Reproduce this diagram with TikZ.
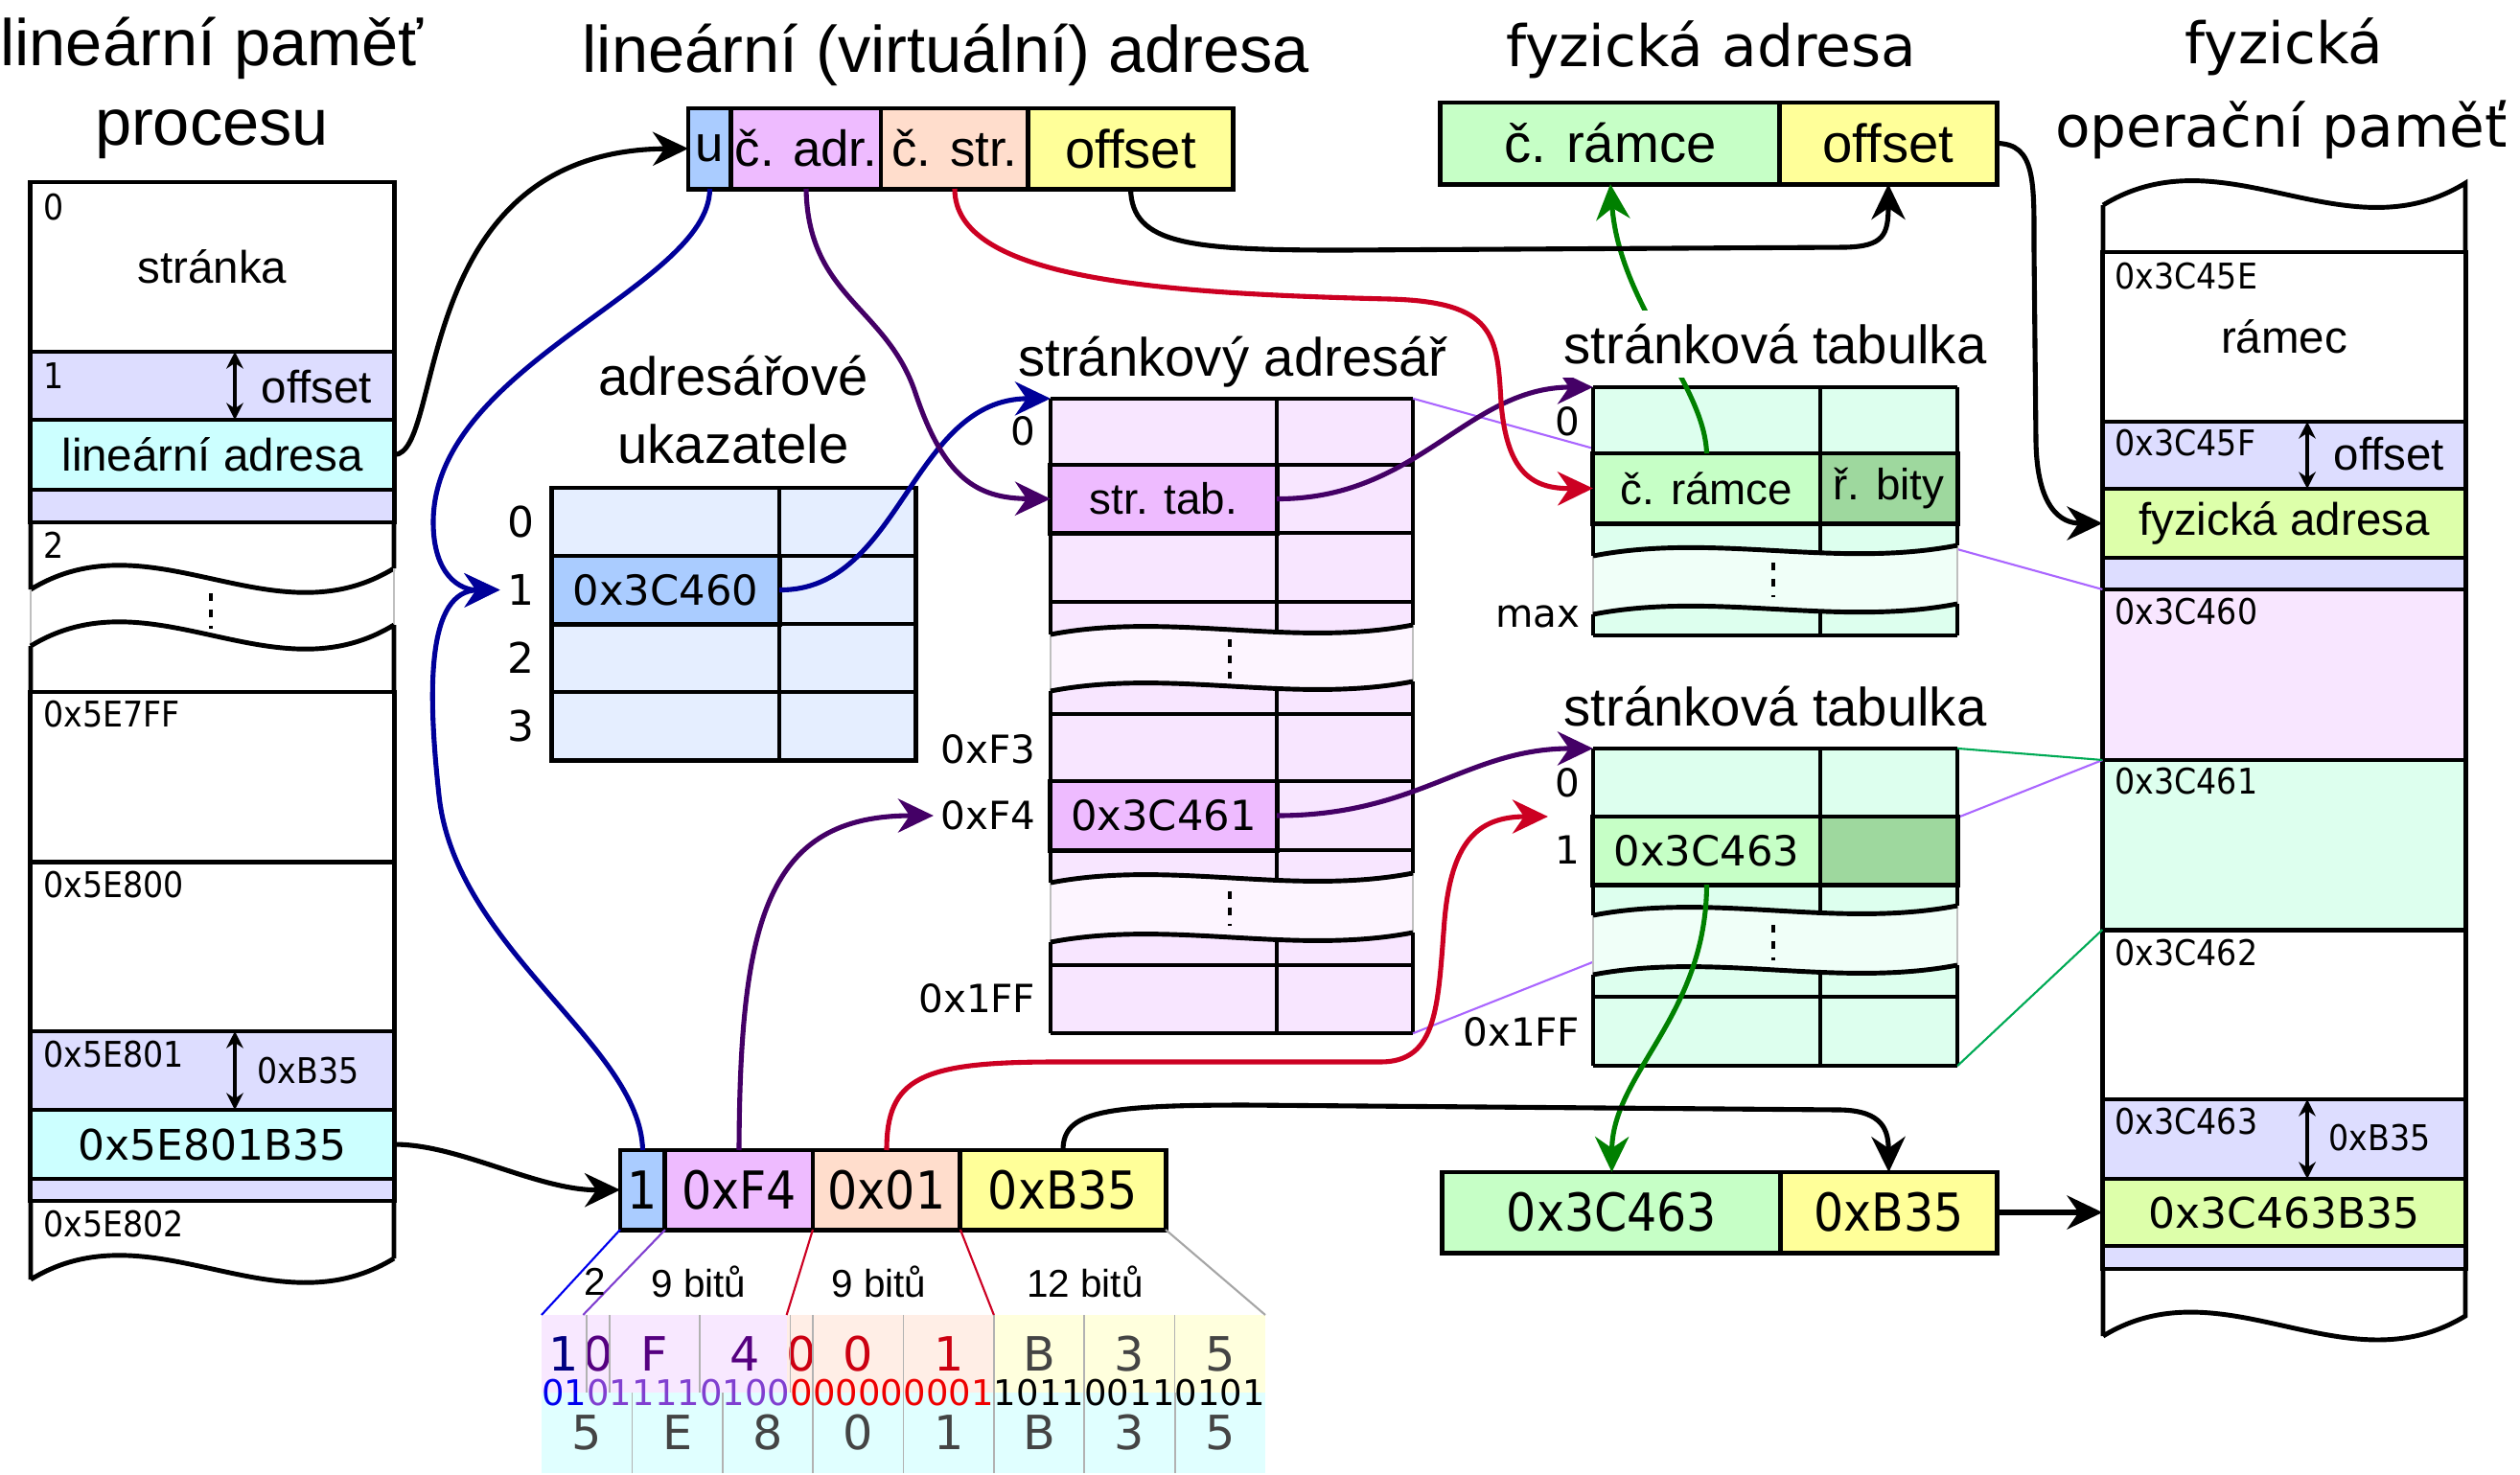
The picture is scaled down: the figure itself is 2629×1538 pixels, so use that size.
\documentclass[tikz,border=0pt]{standalone}
\usepackage{fontspec}
\setmainfont{Liberation Sans}
\newfontfamily\djv{DejaVu Sans}
\newfontfamily\djvc{DejaVu Sans}[FakeStretch=0.9]
\usetikzlibrary{arrows.meta}

\definecolor{memlav}{HTML}{DDDDFF}
\definecolor{memcyan}{HTML}{CCFFFF}
\definecolor{ublue}{HTML}{AACCFF}
\definecolor{adrpink}{HTML}{EEBBFF}
\definecolor{strpeach}{HTML}{FFDDCC}
\definecolor{offyel}{HTML}{FFFF99}
\definecolor{ptrlight}{HTML}{E5EEFF}
\definecolor{dirlight}{HTML}{F8E6FF}
\definecolor{dirgap}{HTML}{FDF5FF}
\definecolor{tablight}{HTML}{DDFFEE}
\definecolor{tabgap}{HTML}{F0FFF8}
\definecolor{framegreen}{HTML}{C6FFC6}
\definecolor{bitsgreen}{HTML}{9ED89E}
\definecolor{physyel}{HTML}{DDFFAA}
\definecolor{arrblue}{HTML}{000099}
\definecolor{arrpurple}{HTML}{440066}
\definecolor{arrred}{HTML}{CC0022}
\definecolor{arrgreen}{HTML}{008000}
\definecolor{mappurple}{HTML}{AA66FF}
\definecolor{mapgreen}{HTML}{00AA55}
\definecolor{bitpink}{HTML}{F8E8FF}
\definecolor{bitpeach}{HTML}{FFEEE6}
\definecolor{bityel}{HTML}{FFFFDD}
\definecolor{bitcyan}{HTML}{E0FFFF}
\definecolor{binblue}{HTML}{0000EE}
\definecolor{binpurple}{HTML}{8040D0}
\definecolor{binred}{HTML}{EE0000}
\definecolor{hexnavy}{HTML}{000080}
\definecolor{hexpurple}{HTML}{550080}
\definecolor{hexred}{HTML}{CC0011}
\definecolor{hexgray}{HTML}{444444}

% wavy break line, forward and backward
\newcommand{\wvf}[5]{(#1,#2) .. controls ({#1+#3/3},{#2-#4/3-#5}) and ({#1+2*#3/3},{#2-2*#4/3+#5}) .. ({#1+#3},{#2-#4})}
\newcommand{\wvb}[5]{.. controls ({#1+2*#3/3},{#2-2*#4/3+#5}) and ({#1+#3/3},{#2-#4/3-#5}) .. (#1,#2)}

\tikzset{
    memrow/.style={draw, line width=1.4pt, inner sep=0, outer sep=0, minimum width=37.9mm, font=\fontsize{13.5}{16}\selectfont},
    memtxt/.style={inner sep=0, font=\fontsize{13.5}{16}\selectfont},
    memlab/.style={anchor=west, inner sep=0, font=\djvc\fontsize{10.5}{12}\selectfont},
    memval/.style={font=\djv\fontsize{12.5}{15}\selectfont},
    addrcell/.style={draw, line width=1.4pt, inner sep=0, outer sep=0, minimum height=8.4mm, font=\fontsize{15}{18}\selectfont},
    numcell/.style={draw, line width=1.4pt, inner sep=0, outer sep=0, minimum height=8.3mm, font=\djvc\fontsize{15.5}{18}\selectfont},
    tcell/.style={draw, line width=1.4pt, inner sep=0, outer sep=0, font=\fontsize{13}{15}\selectfont},
    hexval/.style={font=\djv\fontsize{12.3}{15}\selectfont},
    tabarea/.style={inner sep=0, outer sep=0},
    rowlab/.style={anchor=east, inner sep=2pt, font=\djv\fontsize{11.5}{14}\selectfont},
    tline/.style={line width=1.4pt},
    gapside/.style={line width=0.4pt, black!25},
    dotline/.style={line width=1.3pt, dash pattern=on 2.4pt off 2.4pt},
    conn/.style={line width=1.45pt, -{Stealth[length=10.5pt, width=10pt]}},
    dbl/.style={line width=0.9pt, {Stealth[length=5pt, width=5pt]}-{Stealth[length=5pt, width=5pt]}},
    mapline/.style={line width=0.6pt},
    ttl/.style={inner sep=0, font=\fontsize{19.5}{24}\selectfont},
    ttlb/.style={inner sep=0, font=\djv\fontsize{17}{21}\selectfont},
    subttl/.style={inner sep=0, font=\fontsize{16}{19}\selectfont},
    hexcell/.style={inner sep=0, outer sep=0, minimum height=8.1mm, font=\djv\fontsize{14}{16}\selectfont},
    bitdigit/.style={inner sep=0, font=\djv\fontsize{10.5}{12}\selectfont},
    bitlab/.style={inner sep=0, font=\fontsize{11.5}{14}\selectfont},
    sepline/.style={line width=0.5pt, black!30}
}

\begin{document}
\begin{tikzpicture}[x=0.01cm, y=-0.01cm]
\useasboundingbox (0,0) rectangle (2629,1538);

% Process linear memory
\node[memrow] (lmpage) [minimum height=17.7mm] at (221.5,278.5) {stránka};
\node[memrow, fill=memlav, minimum height=7.1mm] (lmlav1) at (221.5,402.5) {};
\node[memrow, fill=memcyan, minimum height=7.3mm] (linaddr) at (221.5,474.5) {lineární adresa};
\node[memrow, fill=memlav, minimum height=3.4mm] (lmlav2) at (221.5,528) {};
\draw[tline] (32,545) -- (32,615) (411,545) -- (411,593) \wvf{32}{615}{379}{22}{70};
\draw[gapside] (32,615) -- (32,674) (411,593) -- (411,652);
\draw[tline] \wvf{32}{674}{379}{22}{70} (32,674) -- (32,722) (411,652) -- (411,722);
\draw[dotline] (220,619) -- (220,656);
\node[memrow, minimum height=17.7mm] (lm7ff) at (221.5,810.5) {};
\node[memrow, minimum height=17.7mm] (lm800) at (221.5,987.5) {};
\node[memrow, fill=memlav, minimum height=8.2mm] (lmlav3) at (221.5,1117) {};
\node[memrow, memval, fill=memcyan, minimum height=7.2mm] (linval) at (221.5,1194) {0x5E801B35};
\node[memrow, fill=memlav, minimum height=2.3mm] (lmlav4) at (221.5,1241.5) {};
\draw[tline] (32,1253) -- (32,1335) (411,1253) -- (411,1313) \wvf{32}{1335}{379}{22}{70};

\node[memlab] (lm0) at (45,216) {0};
\node[memlab] (lm1) at (45,392) {1};
\node[memlab] (lm2) at (45,569) {2};
\node[memlab] (lm5e7ff) at (45,745) {0x5E7FF};
\node[memlab] (lm5e800) at (45,923) {0x5E800};
\node[memlab] (lm5e801) at (45,1100) {0x5E801};
\node[memlab] (lm5e802) at (45,1277) {0x5E802};
\node[memtxt, anchor=west] (lmoff) at (272,404) {offset};
\node[memlab] (lmb35) at (268,1117) {0xB35};
\draw[dbl] ([xshift=2.35mm]lmlav1.north) -- ([xshift=2.35mm]lmlav1.south);
\draw[dbl] ([xshift=2.35mm]lmlav3.north) -- ([xshift=2.35mm]lmlav3.south);

% Linear (virtual) address
\node[addrcell, fill=ublue, minimum width=4.5mm] (vu) at (740.5,155) {u};
\node[addrcell, fill=adrpink, minimum width=15.6mm] (vadr) at (841,155) {č. adr.};
\node[addrcell, fill=strpeach, minimum width=15.4mm] (vstr) at (996,155) {č. str.};
\node[addrcell, fill=offyel, minimum width=21.3mm, font=\fontsize{16}{19}\selectfont] (voff) at (1179.5,155) {offset};

% Directory pointers
\foreach \rw in {0,...,3} {
    \node[tcell, fill=ptrlight, minimum width=23.7mm, minimum height=7.1mm] (pa\rw) at (694.5,{544.5+71*\rw}) {};
    \node[tcell, fill=ptrlight, minimum width=14.2mm, minimum height=7.1mm] (pb\rw) at (884,{544.5+71*\rw}) {};
    \node[rowlab, font=\djv\fontsize{12.5}{14}\selectfont] (pl\rw) at (565,{544.5+71*\rw}) {\rw};
}
\node[tcell, hexval, fill=ublue, minimum width=23.7mm, minimum height=7.1mm] (ptrval) at (694.5,615.5) {0x3C460};

% Page directory
\node[tabarea, fill=dirlight, minimum width=37.8mm, minimum height=66.2mm] (pdir) at (1285,747) {};
\draw[tline] (1332,416) -- (1332,1078);
\fill[dirgap] \wvf{1096}{662}{378}{10}{21} -- (1474,711) \wvb{1096}{721}{378}{10}{21} -- cycle;
\fill[dirgap] \wvf{1096}{921}{378}{10}{21} -- (1474,973) \wvb{1096}{983}{378}{10}{21} -- cycle;
\draw[gapside] (1096,662) -- (1096,721) (1474,652) -- (1474,711) (1096,921) -- (1096,983) (1474,911) -- (1474,973);
\draw[tline] (1096,416) -- (1096,662) (1096,721) -- (1096,921) (1096,983) -- (1096,1078);
\draw[tline] (1474,416) -- (1474,652) (1474,711) -- (1474,911) (1474,973) -- (1474,1078);
\draw[tline] \wvf{1096}{662}{378}{10}{21} \wvf{1096}{721}{378}{10}{21} \wvf{1096}{921}{378}{10}{21} \wvf{1096}{983}{378}{10}{21};
\foreach \y in {416,485,556,628,745,815,887,1007,1078}
    \draw[tline] (1096,\y) -- (1474,\y);
\draw[dotline] (1283,667) -- (1283,708) (1283,930) -- (1283,966);
\node[tcell, fill=adrpink, minimum width=23.6mm, minimum height=7.1mm] (pd1a) at (1214,520.5) {str. tab.};
\node[tcell, hexval, fill=adrpink, minimum width=23.6mm, minimum height=7.2mm] (pdf4a) at (1214,851) {0x3C461};
\node[rowlab] (ld0) at (1088,450) {0};
\node[rowlab] (lf3) at (1088,782) {0xF3};
\node[rowlab] (lf4) at (1088,851) {0xF4};
\node[rowlab] (ld1ff) at (1088,1042) {0x1FF};

% Physical memory
\draw[tline] (2194,263) -- (2194,214) \wvf{2194}{214}{378}{23}{70} -- (2572,263);
\node[memrow, minimum height=17.7mm] (pmframe) at (2383,351.5) {rámec};
\node[memrow, fill=memlav, minimum height=7mm] (pmlav1) at (2383,475) {};
\node[memrow, fill=physyel, minimum height=7.2mm] (pmaddr) at (2383,546) {fyzická adresa};
\node[memrow, fill=memlav, minimum height=3.3mm] (pmlav2) at (2383,598.5) {};
\node[memrow, fill=dirlight, minimum height=17.8mm] (pm460) at (2383,704) {};
\node[memrow, fill=tablight, minimum height=17.7mm] (pm461) at (2383,881.5) {};
\node[memrow, minimum height=17.7mm] (pm462) at (2383,1058.5) {};
\node[memrow, fill=memlav, minimum height=8.3mm] (pmlav3) at (2383,1188.5) {};
\node[memrow, memval, fill=physyel, minimum height=7mm] (pmval) at (2383,1265) {0x3C463B35};
\node[memrow, fill=memlav, minimum height=2.4mm] (pmlav4) at (2383,1312) {};
\draw[tline] (2194,1324) -- (2194,1394) \wvf{2194}{1394}{378}{21}{70} -- (2572,1324);

\node[memlab] (pm45e) at (2206,288) {0x3C45E};
\node[memlab] (pm45f) at (2206,462) {0x3C45F};
\node[memlab] (pml460) at (2206,638) {0x3C460};
\node[memlab] (pml461) at (2206,815) {0x3C461};
\node[memlab] (pml462) at (2206,994) {0x3C462};
\node[memlab] (pml463) at (2206,1170) {0x3C463};
\node[memtxt, anchor=west] (pmoff) at (2434,474) {offset};
\node[memlab] (pmb35) at (2429,1187) {0xB35};
\draw[dbl] ([xshift=2.4mm]pmlav1.north) -- ([xshift=2.4mm]pmlav1.south);
\draw[dbl] ([xshift=2.4mm]pmlav3.north) -- ([xshift=2.4mm]pmlav3.south);

% Page directory to frame
\draw[mapline, mappurple] (pdir.north east) -- (pm460.north west);
\draw[mapline, mappurple] (pdir.south east) -- (pm460.south west);

% Page table 1
\node[tabarea, fill=tablight, minimum width=38mm, minimum height=25.9mm] (tab1) at (1852,533.5) {};
\draw[tline] (1899,404) -- (1899,663);
\fill[tabgap] \wvf{1662}{580}{380}{11}{21} -- (2042,630) \wvb{1662}{641}{380}{11}{21} -- cycle;
\draw[gapside] (1662,580) -- (1662,641) (2042,569) -- (2042,630);
\draw[tline] (1662,404) -- (1662,580) (1662,641) -- (1662,663) (2042,404) -- (2042,569) (2042,630) -- (2042,663);
\draw[tline] \wvf{1662}{580}{380}{11}{21} \wvf{1662}{641}{380}{11}{21};
\foreach \y in {404,473,546,663}
    \draw[tline] (1662,\y) -- (2042,\y);
\draw[dotline] (1850,587) -- (1850,623);
\node[tcell, fill=framegreen, minimum width=23.7mm, minimum height=7.3mm] (t1fr) at (1780.5,509.5) {č. rámce};
\node[tcell, fill=bitsgreen, minimum width=14.3mm, minimum height=7.3mm] (t1bits) at (1970.5,509.5) {ř. bity};
\node[rowlab] (lt10) at (1656,440) {0};
\node[rowlab] (lt1max) at (1656,643) {max};

% Page table 2
\node[tabarea, fill=tablight, minimum width=38mm, minimum height=33.1mm] (tab2) at (1852,946.5) {};
\draw[tline] (1899,781) -- (1899,1112);
\fill[tabgap] \wvf{1662}{955}{380}{10}{21} -- (2042,1007) \wvb{1662}{1017}{380}{10}{21} -- cycle;
\draw[gapside] (1662,955) -- (1662,1017) (2042,945) -- (2042,1007);
\draw[tline] (1662,781) -- (1662,955) (1662,1017) -- (1662,1112) (2042,781) -- (2042,945) (2042,1007) -- (2042,1112);
\draw[tline] \wvf{1662}{955}{380}{10}{21} \wvf{1662}{1017}{380}{10}{21};
\foreach \y in {781,852,923,1040,1112}
    \draw[tline] (1662,\y) -- (2042,\y);
\draw[dotline] (1850,965) -- (1850,1002);
\node[tcell, hexval, fill=framegreen, minimum width=23.7mm, minimum height=7.1mm] (t2fr) at (1780.5,887.5) {0x3C463};
\node[tcell, fill=bitsgreen, minimum width=14.3mm, minimum height=7.1mm] (t2bits) at (1970.5,887.5) {};
\node[rowlab] (lt20) at (1656,817) {0};
\node[rowlab] (lt21) at (1656,887) {1};
\node[rowlab] (lt21ff) at (1656,1077) {0x1FF};

% Page table 2 to frame
\draw[mapline, mapgreen] (tab2.north east) -- (pm461.north west);
\draw[mapline, mapgreen] (tab2.south east) -- (pm461.south west);

% Physical address
\node[addrcell, fill=framegreen, minimum width=35.4mm, minimum height=8.5mm, font=\fontsize{16}{19}\selectfont] (pafr) at (1680,149.5) {č. rámce};
\node[addrcell, fill=offyel, minimum width=22.6mm, minimum height=8.5mm, font=\fontsize{16}{19}\selectfont] (paoff) at (1970,149.5) {offset};
\node[numcell, fill=framegreen, minimum width=35.3mm, minimum height=8.4mm] (bpfr) at (1681.5,1265) {0x3C463};
\node[numcell, fill=offyel, minimum width=22.5mm, minimum height=8.4mm] (bpoff) at (1970.5,1265) {0xB35};

% Example linear address
\node[numcell, fill=ublue, minimum width=4.7mm] (ba1) at (670.5,1241.5) {1};
\node[numcell, fill=adrpink, minimum width=15.4mm] (ba2) at (771,1241.5) {0xF4};
\node[numcell, fill=strpeach, minimum width=15.4mm] (ba3) at (925,1241.5) {0x01};
\node[numcell, fill=offyel, minimum width=21.4mm] (ba4) at (1109,1241.5) {0xB35};

% Bits
\foreach \n/\s/\w/\t/\c/\f in {1/0/2/1/hexnavy/bitpink, 2/2/1/0/hexpurple/bitpink, 3/3/4/F/hexpurple/bitpink, 4/7/4/4/hexpurple/bitpink, 5/11/1/0/hexred/bitpeach, 6/12/4/0/hexred/bitpeach, 7/16/4/1/hexred/bitpeach, 8/20/4/B/hexgray/bityel, 9/24/4/3/hexgray/bityel, 10/28/4/5/hexgray/bityel}
    \node[hexcell, fill=\f, text=\c, minimum width=\w*2.3594mm] (h\n) at ({565+23.594*(\s+\w/2)},1412.5) {\t};
\foreach \t [count=\k from 0] in {5,E,8,0,1,B,3,5}
    \node[hexcell, fill=bitcyan, text=hexgray, minimum width=9.4375mm, minimum height=8.4mm] (l\k) at ({565+94.375*(\k+0.5)},1495) {\t};
\foreach \x in {612.19,635.78,730.16,824.53,848.13,942.5,1036.9,1131.3,1225.6}
    \draw[sepline] (\x,1372) -- (\x,1453);
\foreach \k in {1,...,7}
    \draw[sepline] ({565+94.375*\k},1453) -- ({565+94.375*\k},1537);
\foreach \bv [count=\k from 0] in {0,1,0,1,1,1,1,0,1,0,0,0,0,0,0,0,0,0,0,1,1,0,1,1,0,0,1,1,0,1,0,1} {
    \ifnum\k<2 \def\bc{binblue}\else\ifnum\k<11 \def\bc{binpurple}\else\ifnum\k<20 \def\bc{binred}\else\def\bc{black}\fi\fi\fi
    \node[bitdigit, text=\bc] (bit\k) at ({565+23.594*(\k+0.5)},1453) {\bv};
}
\draw[mapline, binblue] (ba1.south west) -- (h1.north west);
\draw[mapline, binpurple] (ba2.south west) -- (h2.north west);
\draw[mapline, arrred] (ba3.south west) -- (h5.north west);
\draw[mapline, arrred] (ba4.south west) -- (h8.north west);
\draw[mapline, black!35] (ba4.south east) -- (h10.north east);
\node[bitlab] (w2) at (621,1337) {2};
\node[bitlab] (w9a) at (729,1337) {9 bitů};
\node[bitlab] (w9b) at (917,1337) {9 bitů};
\node[bitlab] (w12) at (1132,1337) {12 bitů};

% Arrows
\draw[conn] (linaddr.east) .. controls (465,474) and (425,157) .. (vu.west);
\draw[conn] (linval.east) .. controls (480,1194) and (560,1242) .. (ba1.west);
\draw[conn, arrblue] (vu.south) .. controls (740,300) and (452,380) .. (452,545) .. controls (452,600) and (480,616) .. (pl1.west);
\draw[conn, arrblue] (ba1.north) .. controls (668,1090) and (475,990) .. (458,830) .. controls (446,720) and (445,616) .. (pl1.west);
\draw[conn, arrblue] (ptrval.east) .. controls (940,617) and (950,416) .. (pdir.north west);
\draw[conn, arrpurple] (vadr.south) .. controls (843,310) and (925,320) .. (955,410) .. controls (985,500) and (1020,520) .. (pd1a.west);
\draw[conn, arrpurple] (pd1a.east) .. controls (1480,521) and (1530,404) .. (tab1.north west);
\draw[conn, arrpurple] (pdf4a.east) .. controls (1480,851) and (1530,781) .. (tab2.north west);
\draw[conn, arrpurple] (ba2.north) .. controls (772,960) and (800,851) .. (lf4.west);
\draw[conn, arrred] (vstr.south) .. controls (996,290) and (1200,306) .. (1450,312) .. controls (1560,315) and (1562,350) .. (1566,420) .. controls (1572,495) and (1600,510) .. (t1fr.west);
\draw[conn, arrred] (ba3.north) .. controls (925,1125) and (960,1108) .. (1100,1108) -- (1440,1108) .. controls (1500,1108) and (1500,1050) .. (1507,960) .. controls (1514,880) and (1540,852) .. ([xshift=-4.7mm]t2fr.north west);
\draw[conn, arrgreen] (t1fr.north) .. controls (1778,400) and (1690,320) .. (pafr.south);
\draw[conn, arrgreen] (t2fr.south) .. controls (1780,1060) and (1682,1120) .. (bpfr.north);
\draw[conn] (voff.south) .. controls (1181,255) and (1240,261) .. (1400,261) -- (1925,258) .. controls (1965,257) and (1970,245) .. (paoff.south);
\draw[conn] (ba4.north) .. controls (1109,1160) and (1150,1153) .. (1300,1153) -- (1920,1158) .. controls (1965,1159) and (1970,1180) .. (bpoff.north);
\draw[conn] (paoff.east) .. controls (2124,150) and (2122,190) .. (2122,260) -- (2124,460) .. controls (2125,530) and (2150,546) .. (pmaddr.west);
\draw[conn] (bpoff.east) -- (pmval.west);

% Titles
\node[ttl, anchor=base] (tlin1) at (221,68) {lineární paměť};
\node[ttl, anchor=base] (tlin2) at (221,151) {procesu};
\node[ttl, anchor=base] (tvirt) at (987,75) {lineární (virtuální) adresa};
\node[ttlb, anchor=base] (tphys) at (1785,69) {fyzická adresa};
\node[ttlb, anchor=base] (tram1) at (2383,66) {fyzická};
\node[ttlb, anchor=base] (tram2) at (2380,153) {operační paměť};
\node[subttl, anchor=base] (tptr1) at (765,412) {adresářové};
\node[subttl, anchor=base] (tptr2) at (765,483) {ukazatele};
\node[subttl, anchor=base] (tdir) at (1286,392) {stránkový adresář};
\node[subttl, anchor=base, fill=white, inner sep=4pt] (ttab1) at (1852,379) {stránková tabulka};
\node[subttl, anchor=base] (ttab2) at (1852,757) {stránková tabulka};

\end{tikzpicture}
\end{document}
